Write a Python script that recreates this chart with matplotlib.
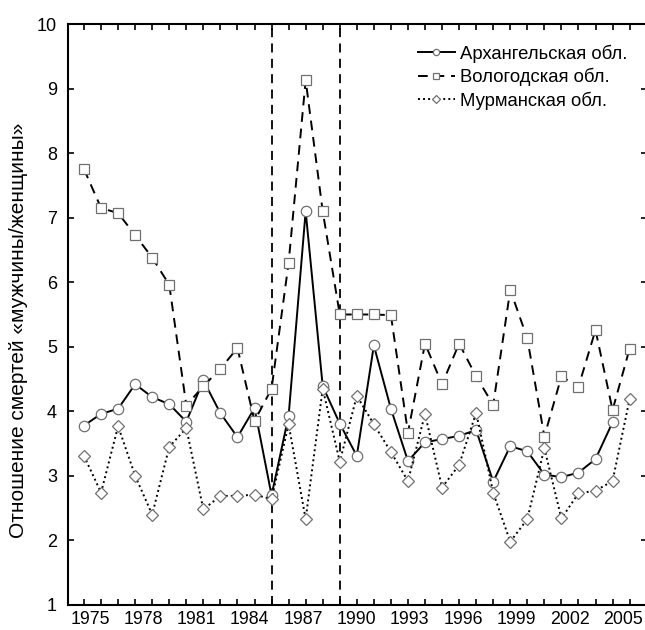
import numpy as np
import matplotlib
matplotlib.use("Agg")
import matplotlib.pyplot as plt

plt.rcParams['font.family'] = ['Liberation Sans', 'DejaVu Sans']

# one value per year, 33 points along the axis
arkhangelsk = [3.78, 3.96, 4.04, 4.42, 4.22, 4.11, 3.84, 4.48, 3.97, 3.60,
               4.05, 2.70, 3.93, 7.10, 4.39, 3.81, 3.31, 5.02, 4.04, 3.23,
               3.52, 3.57, 3.62, 3.71, 2.91, 3.46, 3.38, 3.02, 2.98, 3.05,
               3.26, 3.83]
vologda = [7.75, 7.15, 7.07, 6.73, 6.38, 5.96, 4.09, 4.39, 4.66, 4.98,
           3.85, 4.35, 6.30, 9.13, 7.10, 5.50, 5.50, 5.50, 5.49, 3.67,
           5.05, 4.42, 5.05, 4.54, 4.10, 5.88, 5.13, 3.61, 4.54, 4.38,
           5.26, 4.02, 4.97]
murmansk = [3.31, 2.74, 3.77, 3.00, 2.40, 3.45, 3.74, 2.48, 2.69, 2.69,
            2.71, 2.64, 3.80, 2.33, 4.35, 3.22, 4.24, 3.80, 3.37, 2.92,
            3.96, 2.82, 3.17, 3.98, 2.74, 1.98, 2.33, 3.43, 2.34, 2.73,
            2.77, 2.92, 4.19]
year_labels = ['1975', '1978', '1981', '1984', '1987', '1990',
               '1993', '1996', '1999', '2002', '2005']
campaign_marks = [11, 15]  # indices of the dashed vertical lines

fig = plt.figure(figsize=(6.45, 6.3), dpi=100)
ax = fig.add_axes([0.1054, 0.0397, 0.8977, 0.9222])

edge = '#707070'
ax.plot(np.arange(len(arkhangelsk)), arkhangelsk, color='black', lw=1.4, ls='-',
        marker='o', ms=7.5, mfc='white', mec=edge, mew=0.9,
        label='Архангельская обл.')
ax.plot(np.arange(len(vologda)), vologda, color='black', lw=1.4, ls=(0, (5, 3.5)),
        marker='s', ms=7, mfc='white', mec=edge, mew=0.9,
        label='Вологодская обл.')
ax.plot(np.arange(len(murmansk)), murmansk, color='black', lw=1.4, ls=(0, (1, 1.6)),
        marker='D', ms=6.5, mfc='white', mec=edge, mew=0.9,
        label='Мурманская обл.')

for m in campaign_marks:
    ax.axvline(m, color='black', lw=1.3, ls=(0, (5, 3.5)), zorder=1)

ax.set_xlim(-0.94, 33.02)
ax.set_ylim(1, 10)
ax.set_yticks(range(1, 11))
ax.set_xticks(np.linspace(0.35, 31.6, len(year_labels)))
ax.set_xticklabels(year_labels)
ax.set_xticks(np.arange(len(vologda)), minor=True)
ax.tick_params(axis='x', which='major', length=0, labelsize=12.8, pad=4)
ax.tick_params(axis='x', which='minor', direction='in', length=4, width=1.2,
               top=True, bottom=True)
ax.tick_params(axis='y', direction='in', length=4, width=1.2, labelsize=13,
               left=True, right=True, pad=8)
for s in ax.spines.values():
    s.set_linewidth(1.5)

ax.set_ylabel('Отношение смертей «мужчины/женщины»', fontsize=15)
ax.yaxis.set_label_coords(-0.069, 0.473)

leg = ax.legend(loc='upper right', frameon=False, fontsize=13.3, handlelength=2.0,
                handletextpad=0.3, labelspacing=0.28, borderaxespad=0.4,
                markerscale=0.6, bbox_to_anchor=(0.992, 0.99))

fig.savefig('out.png', dpi=100)
